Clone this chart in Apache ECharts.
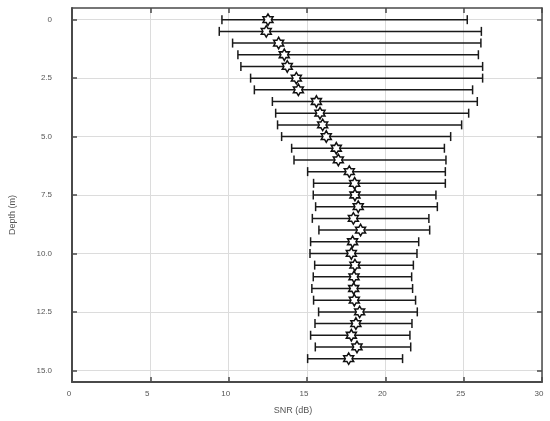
<!DOCTYPE html>
<html>
<head>
<meta charset="utf-8">
<script src="https://cdn.jsdelivr.net/npm/echarts@6/dist/echarts.min.js"></script>
<style>html,body{margin:0;padding:0;background:#fff}#c{width:550px;height:421px}</style>
</head>
<body>
<div id="c"></div>
<script>
const depth = [0, 0.5, 1.0, 1.5, 2.0, 2.5, 3.0, 3.5, 4.0, 4.5, 5.0, 5.5, 6.0, 6.5, 7.0, 7.5, 8.0, 8.5, 9.0, 9.5, 10.0, 10.5, 11.0, 11.5, 12.0, 12.5, 13.0, 13.5, 14.0, 14.5];
const snrMean = [12.51, 12.40, 13.19, 13.55, 13.74, 14.32, 14.45, 15.60, 15.83, 16.00, 16.23, 16.87, 17.00, 17.70, 18.04, 18.06, 18.27, 17.96, 18.42, 17.91, 17.83, 18.06, 18.00, 17.98, 18.02, 18.36, 18.12, 17.83, 18.19, 17.66];
const snrLow = [9.57, 9.40, 10.25, 10.59, 10.78, 11.40, 11.64, 12.79, 13.00, 13.12, 13.38, 14.02, 14.17, 15.04, 15.42, 15.40, 15.55, 15.34, 15.76, 15.23, 15.19, 15.49, 15.40, 15.31, 15.42, 15.74, 15.51, 15.23, 15.53, 15.04];
const snrHigh = [25.23, 26.13, 26.10, 25.94, 26.21, 26.21, 25.57, 25.87, 25.32, 24.87, 24.17, 23.77, 23.87, 23.83, 23.83, 23.23, 23.32, 22.78, 22.83, 22.13, 22.02, 21.79, 21.68, 21.74, 21.93, 22.04, 21.70, 21.57, 21.62, 21.10];
const depthTicks = [0, 2.5, 5.0, 7.5, 10.0, 12.5, 15.0];
const xLabel = 'SNR (dB)';
const yLabel = 'Depth (m)';

const starPath = 'path://M10 0 L12.887 5 L18.660 5 L15.774 10 L18.660 15 L12.887 15 L10 20 L7.113 15 L1.340 15 L4.226 10 L1.340 5 L7.113 5 Z';
const axisColor = '#4a4a4a';
const labelColor = '#555';
const gridColor = '#dcdcdc';

const chart = echarts.init(document.getElementById('c'), null, {renderer: 'canvas'});
const errData = depth.map((d, i) => [snrLow[i], snrHigh[i], d]);
const ptData = depth.map((d, i) => [snrMean[i], d]);

chart.setOption({
  animation: false,
  backgroundColor: '#fff',
  grid: {left: 72, right: 8, top: 8, bottom: 39, containLabel: false},
  xAxis: [{
    type: 'value', position: 'bottom', min: 0, max: 30, interval: 5,
    name: xLabel, nameLocation: 'middle', nameGap: 24,
    nameTextStyle: {color: labelColor, fontSize: 9, fontFamily: 'Liberation Sans', padding: [0, 28, 0, 0]},
    axisLine: {show: true, onZero: false, lineStyle: {color: axisColor, width: 2}},
    axisTick: {show: true, inside: true, length: 5, lineStyle: {color: axisColor, width: 1.5}},
    axisLabel: {color: labelColor, fontSize: 8, fontFamily: 'Liberation Sans', margin: 8, padding: [0, 6, 0, 0]},
    splitLine: {show: true, lineStyle: {color: gridColor, width: 1}}
  }, {
    type: 'value', position: 'top', min: 0, max: 30, interval: 5,
    axisLine: {show: true, onZero: false, lineStyle: {color: axisColor, width: 1.5}},
    axisTick: {show: true, inside: true, length: 5, lineStyle: {color: axisColor, width: 1.5}},
    axisLabel: {show: false},
    splitLine: {show: false}
  }],
  yAxis: [{
    type: 'value', position: 'left', inverse: true, min: -0.5, max: 15.5,
    name: yLabel, nameLocation: 'middle', nameGap: 55, nameRotate: 90,
    nameTextStyle: {color: labelColor, fontSize: 9, fontFamily: 'Liberation Sans', padding: [0, 40, 0, 0]},
    axisLine: {show: true, onZero: false, lineStyle: {color: axisColor, width: 2}},
    axisTick: {show: true, inside: true, length: 5, customValues: depthTicks, lineStyle: {color: axisColor, width: 1.5}},
    axisLabel: {color: labelColor, fontSize: 8, fontFamily: 'Liberation Sans', margin: 20, customValues: depthTicks,
      formatter: v => v === 0 ? '0' : v.toFixed(1)},
    splitLine: {show: true, lineStyle: {color: gridColor, width: 1}}
  }, {
    type: 'value', position: 'right', inverse: true, min: -0.5, max: 15.5,
    axisLine: {show: true, onZero: false, lineStyle: {color: axisColor, width: 1.5}},
    axisTick: {show: true, inside: true, length: 5, customValues: depthTicks, lineStyle: {color: axisColor, width: 1.5}},
    axisLabel: {show: false},
    splitLine: {show: false}
  }],
  series: [{
    type: 'custom',
    xAxisIndex: 0, yAxisIndex: 0,
    data: errData,
    encode: {x: [0, 1], y: 2},
    renderItem: function (params, api) {
      const y = api.value(2);
      const p1 = api.coord([api.value(0), y]);
      const p2 = api.coord([api.value(1), y]);
      const h = 4.5;
      const st = {stroke: '#1a1a1a', lineWidth: 1.5};
      return {type: 'group', children: [
        {type: 'line', shape: {x1: p1[0], y1: p1[1], x2: p2[0], y2: p2[1]}, style: st},
        {type: 'line', shape: {x1: p1[0], y1: p1[1] - h, x2: p1[0], y2: p1[1] + h}, style: st},
        {type: 'line', shape: {x1: p2[0], y1: p2[1] - h, x2: p2[0], y2: p2[1] + h}, style: st}
      ]};
    },
    z: 2
  }, {
    type: 'scatter',
    xAxisIndex: 0, yAxisIndex: 0,
    data: ptData,
    symbol: starPath,
    symbolSize: [10, 11.5],
    itemStyle: {color: '#fff', borderColor: '#111', borderWidth: 1.5, opacity: 1},
    z: 3
  }]
});
</script>
</body>
</html>
